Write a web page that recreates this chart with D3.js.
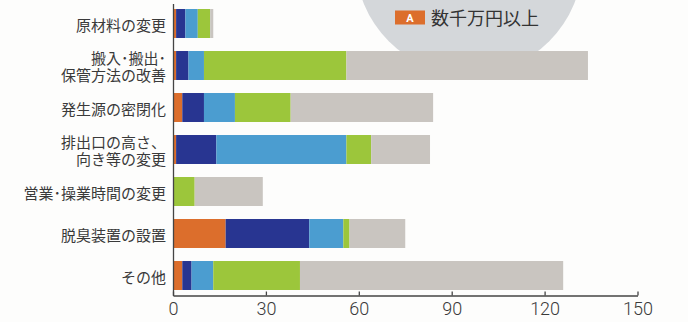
<!DOCTYPE html>
<html><head><meta charset="utf-8">
<script src="https://cdn.jsdelivr.net/npm/d3@7"></script>
<style>
html,body{margin:0;padding:0;background:#fdfdfc;}
svg{display:block;}
</style></head>
<body>
<svg id="chart" width="688" height="322"></svg>
<script>
// ---- data ----
const categories = [
  ["原材料の変更"],
  ["搬入･搬出･", "保管方法の改善"],
  ["発生源の密閉化"],
  ["排出口の高さ、", "向き等の変更"],
  ["営業･操業時間の変更"],
  ["脱臭装置の設置"],
  ["その他"]
];
const seriesNames = ["A", "B", "C", "D", "E"];
const seriesA = [1, 1, 3, 1, 0, 17, 3];    // 数千万円以上
const seriesB = [3, 4, 7, 13, 0, 27, 3];
const seriesC = [4, 5, 10, 42, 0, 11, 7];
const seriesD = [4, 46, 18, 8, 7, 2, 28];
const seriesE = [1, 78, 46, 19, 22, 18, 85];
const xTicks = [0, 30, 60, 90, 120, 150];
const legendKey = "A";
const legendLabel = "数千万円以上";
const colors = ["#dc6e2c", "#283591", "#4b9dd0", "#9cc63b", "#c9c5c0"];

// ---- build ----
const svg = d3.select("#chart");
const x = d3.scaleLinear().domain([0, 150]).range([173, 637.5]);
const keys = categories.map((c, i) => "c" + i);
const y = d3.scaleBand().domain(keys).range([2.5, 296.5]).paddingInner(0.31).paddingOuter(0.155);

const rows = keys.map((k, i) => ({
  key: k, A: seriesA[i], B: seriesB[i], C: seriesC[i], D: seriesD[i], E: seriesE[i]
}));
const stacked = d3.stack().keys(seriesNames)(rows);

// legend circle (background)
svg.append("circle").attr("cx", 469).attr("cy", -39).attr("r", 113.5).attr("fill", "#d4d7da");

const g = svg.append("g");
g.selectAll("g.s").data(stacked).join("g").attr("class", "s")
  .attr("fill", (d, i) => colors[i])
  .selectAll("rect").data(d => d).join("rect")
  .attr("x", d => x(d[0]))
  .attr("width", d => x(d[1]) - x(d[0]))
  .attr("y", d => y(d.data.key))
  .attr("height", y.bandwidth());

// category labels (multi-line labels as one text with tspans)
const lab = svg.append("g").attr("font-family", "'Noto Sans CJK JP', sans-serif")
  .attr("font-size", 15).attr("fill", "#3a3a3a").attr("text-anchor", "end");
categories.forEach((lines, i) => {
  const cy = y(keys[i]) + y.bandwidth() / 2;
  const n = lines.length;
  const t = lab.append("text").attr("dominant-baseline", "central");
  lines.forEach((s, j) => {
    t.append("tspan").attr("x", 166)
      .attr("y", cy + (j - (n - 1) / 2) * 17)
      .attr("dominant-baseline", "central").text(s);
  });
});

// x axis
const axis = d3.axisBottom(x).tickValues(xTicks).tickSizeInner(-4).tickSizeOuter(0).tickPadding(7);
const ax = svg.append("g").attr("transform", "translate(0,295.5)").call(axis);
ax.select(".domain").attr("stroke", "#444").attr("stroke-width", 1.3);
ax.selectAll(".tick line").attr("stroke", "#444").attr("stroke-width", 1.3);
ax.selectAll(".tick text").attr("font-family", "Roboto, sans-serif").attr("font-weight", 300)
  .attr("font-size", 18).attr("fill", "#3a3a3a");

// y axis line
svg.append("line").attr("x1", x(0) + 0.5).attr("x2", x(0) + 0.5).attr("y1", 4).attr("y2", 296)
  .attr("stroke", "#444").attr("stroke-width", 1.3);

// legend
const lg = svg.append("g");
lg.append("rect").attr("x", 395).attr("y", 10.5).attr("width", 30).attr("height", 14).attr("fill", colors[0]);
lg.append("text").attr("x", 410).attr("y", 18).attr("text-anchor", "middle").attr("dominant-baseline", "central")
  .attr("font-family", "Roboto, sans-serif").attr("font-weight", 700).attr("font-size", 11).attr("fill", "#fff").text(legendKey);
lg.append("text").attr("x", 431).attr("y", 17).attr("dominant-baseline", "central")
  .attr("font-family", "'Noto Sans CJK JP', sans-serif").attr("font-size", 18).attr("fill", "#333").text(legendLabel);
</script>
</body></html>
